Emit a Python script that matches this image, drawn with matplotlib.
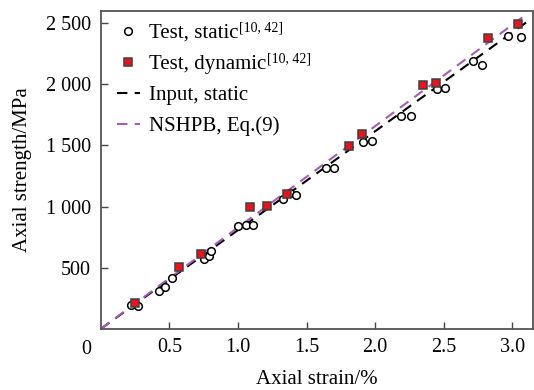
import matplotlib
matplotlib.use('Agg')
from matplotlib import pyplot as plt

# Test, static (strain %, strength MPa)
static_x = [0.22, 0.27, 0.42, 0.47, 0.52, 0.75, 0.79, 0.80, 1.00, 1.06, 1.11,
            1.33, 1.38, 1.42, 1.64, 1.70, 1.91, 1.98, 2.19, 2.26, 2.45, 2.51,
            2.71, 2.78, 2.97, 3.06]
static_y = [194, 185, 311, 344, 412, 570, 595, 636, 840, 851, 846,
            1061, 1113, 1094, 1318, 1318, 1530, 1536, 1743, 1743, 1964, 1972,
            2190, 2158, 2395, 2387]

# Test, dynamic
dyn_x = [0.25, 0.57, 0.73, 1.09, 1.21, 1.36, 1.81, 1.90, 2.35, 2.44, 2.82, 3.04]
dyn_y = [213, 507, 611, 993, 1007, 1099, 1498, 1596, 1994, 2008, 2381, 2490]

# fitted lines
input_x = [0, 3.10]
input_y = [0, 2505]
nshpb_x = [0, 3.11]
nshpb_y = [0, 2578]

xticks = [0.5, 1.0, 1.5, 2.0, 2.5, 3.0]
yticks = [500, 1000, 1500, 2000, 2500]
ytick_labels = ['500', '1 000', '1 500', '2 000', '2 500']
ref_note = '[10, 42]'

plt.rcParams['font.family'] = ['Liberation Serif', 'DejaVu Serif']

fig = plt.figure(figsize=(5.34, 3.9), dpi=100)
ax = fig.add_axes([0.189, 0.157, 0.809, 0.815])

ax.plot(static_x, static_y, 'o', mfc='white', mec='black', mew=1.1, ms=5.5,
        ls='none', label='Test, static', zorder=3)
ax.plot(dyn_x, dyn_y, 's', mfc='#e8141c', mec='#404040', mew=1.1, ms=5.3,
        ls='none', label='Test, dynamic', zorder=4)
ax.plot(input_x, input_y, color='black', ls=(0, (5, 3.5)), lw=1.5,
        label='Input, static', zorder=2)
ax.plot(nshpb_x, nshpb_y, color='#a85cb8', ls=(0, (5, 3.5)), lw=1.5,
        label='NSHPB, Eq.(9)', zorder=2)

ax.set_xlim(0, 3.15)
ax.set_ylim(0, 2600)
ax.set_xticks(xticks)
ax.set_xticklabels([str(t) for t in xticks])
ax.set_yticks(yticks)
ax.set_yticklabels(ytick_labels)
ax.tick_params(direction='in', length=5, width=1, labelsize=14.5,
               color='#444444', pad=7)
for s in ax.spines.values():
    s.set_color('#555555')
    s.set_linewidth(1.3)

ax.annotate('0', xy=(0, 0), xycoords='axes fraction', xytext=(-7, -8),
            textcoords='offset points', ha='right', va='top', fontsize=14.5)

ax.set_xlabel('Axial strain/%', fontsize=15, labelpad=9)
ax.set_ylabel('Axial strength/MPa', fontsize=15, labelpad=10)

leg = ax.legend(loc='upper left', bbox_to_anchor=(0.01, 0.997), frameon=False,
                fontsize=15, handlelength=1.1, handletextpad=0.45,
                labelspacing=0.55, borderaxespad=0.15)

# superscript citation after the two test entries
fig.canvas.draw()
inv = ax.transAxes.inverted()
for t in leg.get_texts()[:2]:
    bb = t.get_window_extent()
    x, y = inv.transform((bb.x1 + 1, bb.y1 + 2))
    ax.text(x, y, ref_note, transform=ax.transAxes, ha='left', va='top',
            fontsize=10)

fig.savefig('out.png', dpi=100)
